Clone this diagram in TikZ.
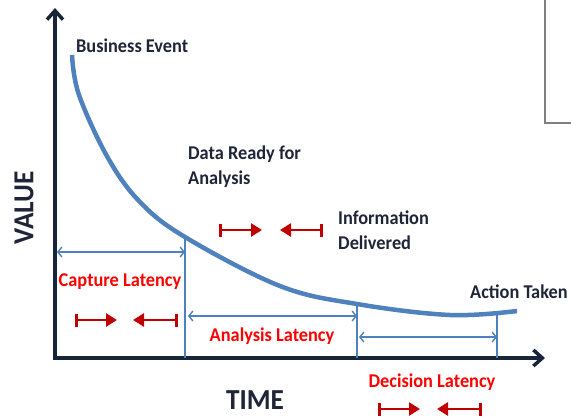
\documentclass[tikz,border=0pt]{standalone}
\usepackage{fontspec}
\setmainfont{Carlito}[FakeStretch=0.94]
\usetikzlibrary{positioning,calc,arrows.meta}
\definecolor{axisnavy}{HTML}{17243A}
\definecolor{curveblue}{HTML}{4F81BD}
\definecolor{markred}{HTML}{C00000}
\definecolor{labelred}{HTML}{FF0000}
\definecolor{textdark}{HTML}{1F2437}
\newcommand*{\lbl}{\fontsize{19.5}{25}\selectfont\bfseries}
\newcommand*{\axlbl}{\fontsize{29}{31}\selectfont\bfseries}

\begin{document}
\begin{tikzpicture}[x=1pt,y=-1pt,
  axis/.style={line width=3.5pt,axisnavy,-{Straight Barb[length=9pt,width=16pt,line width=3.5pt]}},
  span/.style={line width=1.4pt,curveblue,{Straight Barb[length=4pt,width=10pt]}-{Straight Barb[length=4pt,width=10pt]}},
  tick/.style={line width=1.2pt,curveblue},
  marker/.style={line width=2.6pt,markred,{Bar[width=13pt,line width=2.6pt]}-{Triangle[length=11pt,width=13pt]}},
  event/.style={anchor=west,align=left,inner sep=0pt,textdark,font=\lbl},
  latency/.style={inner sep=0pt,labelred,font=\lbl}]
\useasboundingbox (0,0) rectangle (571,418);
% Corner of a box cut off at the top right
\draw[line width=1.2pt,gray] (545,0) -- (545,123) -- (571,123);
% Axes
\coordinate (o) at (55,358);
\coordinate (ytop) at (55,8);
\coordinate (xend) at (545,358);
\draw[axis] ($(o)+(0,1.75)$) -- (ytop);
\draw[axis] ($(o)+(-1.75,0)$) -- (xend);
\node[font=\axlbl,textdark,rotate=90,inner sep=0pt] (value) at (24,208) {VALUE};
\node[font=\axlbl,textdark,inner sep=0pt] (time) at (255,400) {TIME};
% Points on the value curve
\coordinate (start) at (72,55);
\coordinate (ready) at (185,237);
\coordinate (delivered) at (357,304);
\coordinate (taken) at (497,313);
% Value decays over time
\draw[line width=4.5pt,curveblue] plot[smooth,tension=0.6] coordinates
  {(start) (79,95) (108,158) (140,202) (ready) (280,286) (delivered) (450,315) (517,311)};
% Drop lines to the time axis
\draw[tick] (ready) -- (ready |- o);
\draw[tick] (delivered) -- (delivered |- o);
\draw[tick] (taken) -- (taken |- o);
% Latency spans
\draw[span] (57,252) -- (ready |- 0,252);
\draw[span] (188,316) -- (delivered |- 0,316);
\draw[span] (359,337) -- (taken |- 0,337);
% Events along the curve
\node[event] (business) at (76,46) {Business Event};
\node[event] (readytxt) at (188,167) {Data Ready for\\Analysis};
\node[event] (info) at (338,230) {Information\\Delivered};
\node[event] (action) at (470,292) {Action Taken};
% Latency names
\node[latency] (capture) at (120,282) {Capture Latency};
\node[latency] (analysis) at (272,336) {Analysis Latency};
\node[latency] (decision) at (432,382) {Decision Latency};
% Red markers closing in
\draw[marker] (75,320) -- (117,320);
\draw[marker] (178,320) -- (133,320);
\draw[marker] (219,230) -- (262,230);
\draw[marker] (323,230) -- (280,230);
\draw[marker] (378,409) -- (420,409);
\draw[marker] (482,409) -- (437,409);
\end{tikzpicture}
\end{document}
